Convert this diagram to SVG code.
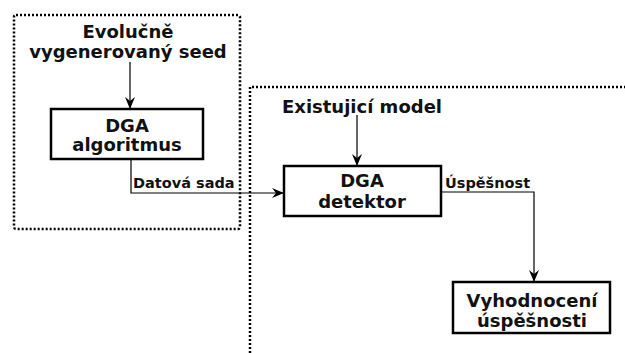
<svg xmlns="http://www.w3.org/2000/svg" width="625" height="353" viewBox="0 0 625 353">
<style>
.t{font-family:"DejaVu Sans",sans-serif;font-weight:bold;fill:#111;text-anchor:middle}
.big{font-size:18px}
.lbl{font-size:14.5px;text-anchor:start}
.box{fill:#fff;stroke:#000;stroke-width:2.5}
.dot{fill:none;stroke:#000;stroke-width:2.5;stroke-dasharray:2 2}
.ln{fill:none;stroke:#000;stroke-width:1.2}
</style>
<defs>
<marker id="ah" viewBox="0 0 12 10" refX="12" refY="5" markerWidth="12" markerHeight="10" markerUnits="userSpaceOnUse" orient="auto">
<path d="M0,0 L12,5 L0,10 L4,5 Z" fill="#000"/>
</marker>
</defs>
<g id="regions">
<rect class="dot" x="14" y="15" width="226" height="214" rx="2"/>
<path class="dot" d="M250,353 L250,87 L625,87"/>
</g>
<g id="connectors">
<path class="ln" d="M130,62 L130,109" marker-end="url(#ah)"/>
<path class="ln" d="M357,115 L357,166" marker-end="url(#ah)"/>
<path class="ln" d="M131,159 L131,193 L284,193" marker-end="url(#ah)"/>
<path class="ln" d="M441,192 L534,192 L534,282" marker-end="url(#ah)"/>
<text class="t lbl" x="133" y="188">Datová sada</text>
<text class="t lbl" x="445" y="188">Úspěšnost</text>
</g>
<g id="seed">
<text class="t big" x="128" y="38">Evolučně</text>
<text class="t big" x="128" y="58">vygenerovaný seed</text>
</g>
<g id="dga-algoritmus">
<rect class="box" x="51" y="109" width="152" height="50"/>
<text class="t big" x="127" y="132">DGA</text>
<text class="t big" x="127" y="151">algoritmus</text>
</g>
<g id="model">
<text class="t big" x="362" y="113">Existujicí model</text>
</g>
<g id="dga-detektor">
<rect class="box" x="284" y="166" width="157" height="50"/>
<text class="t big" x="362" y="187">DGA</text>
<text class="t big" x="362" y="208">detektor</text>
</g>
<g id="vyhodnoceni">
<rect class="box" x="453" y="282" width="157" height="51"/>
<text class="t big" x="532" y="307">Vyhodnocení</text>
<text class="t big" x="532" y="327">úspěšnosti</text>
</g>
</svg>
